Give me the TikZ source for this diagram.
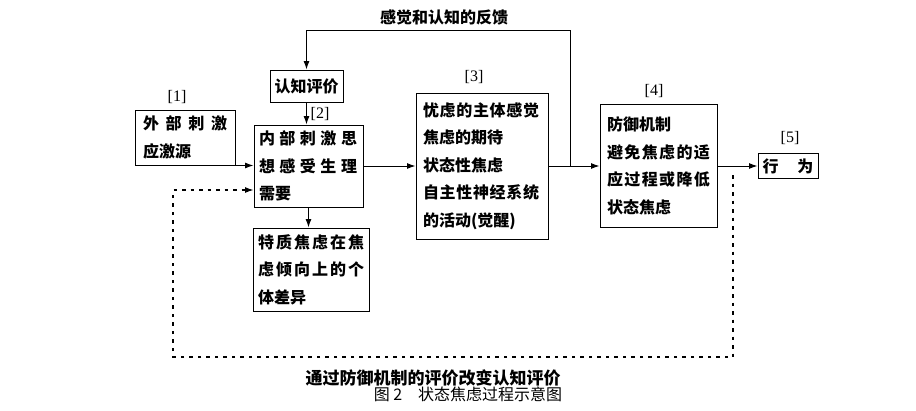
\documentclass[tikz,border=0pt]{standalone}
\usepackage{fontspec}
\setmainfont{Liberation Serif}
\newfontfamily\cjk{Noto Sans CJK SC}
\usepackage{tikz}
\usetikzlibrary{arrows.meta,positioning}
% spread the characters of one line over a given width
\makeatletter
\newcommand\spread[2]{\leavevmode\hbox to #1{\@tfor\chr:=#2\do{\chr\hfil}\unskip}}
\makeatother
\tikzset{
  box/.style={draw, rectangle, line width=1pt, align=left, inner ysep=0pt,
    font=\cjk\bfseries\fontsize{16}{27.5}\selectfont},
  tag/.style={inner sep=0pt, font=\fontsize{16}{18}\selectfont},
  flow/.style={->, line width=1pt},
  back/.style={->, line width=1.1pt, dash pattern=on 3.5pt off 5pt}
}

\begin{document}
\begin{tikzpicture}[x=1pt, y=-1pt, >={Latex[length=8.5pt,width=6pt]}]
        \useasboundingbox (0,0) rectangle (916,410);

        % Stages of the process
        \node[box, text width=84pt, inner xsep=8pt, minimum height=55pt] (src) at (185,137.5) {\spread{84pt}{外部刺激}\\应激源};
        \node[box, inner xsep=4.5pt, minimum height=32pt] (appr) at (306.5,86) {认知评价};
        \node[box, text width=99pt, inner xsep=5pt, minimum height=82pt] (inner) at (308.5,166) {\spread{98pt}{内部刺激思}\\\spread{98pt}{想感受生理}\\需要};
        \node[box, text width=106pt, inner xsep=5pt, minimum height=83pt] (trait) at (311,269.5) {\spread{106pt}{特质焦虑在焦}\\\spread{106pt}{虑倾向上的个}\\体差异};
        \node[box, text width=118pt, inner xsep=7pt, minimum height=146pt] (state) at (482,166) {\spread{116pt}{忧虑的主体感觉}\\焦虑的期待\\状态性焦虑\\\spread{116pt}{自主性神经系统}\\的活动(觉醒)};
        \node[box, text width=103pt, inner xsep=7pt, minimum height=123pt] (defense) at (658.5,166) {防御机制\\\spread{103pt}{避免焦虑的适}\\\spread{103pt}{应过程或降低}\\状态焦虑};
        \node[box, inner xsep=4.5pt, minimum height=25pt] (act) at (788,166) {\spread{51pt}{行为}};

        % Stage numbers
        \node[tag] (n1) at (177,97) {[1]};
        \node[tag] (n2) at (320,114) {[2]};
        \node[tag] (n3) at (474,77) {[3]};
        \node[tag] (n4) at (654,91) {[4]};
        \node[tag] (n5) at (790,138) {[5]};

        % Corner points of the loops
        \coordinate (split) at (570,166);
        \coordinate (top) at (570,30);
        \coordinate (dtop) at (733,175);
        \coordinate (dbr) at (733,357);
        \coordinate (dbl) at (173,357);
        \coordinate (din) at (173,190);

        % Connectors
        \draw[flow] (src.south east) -- (src.south east -| inner.west);
        \draw[flow] (appr) -- (appr |- inner.north);
        \draw[flow] (inner.south) -- (inner.south |- trait.north);
        \draw[flow] (inner) -- (state);
        \draw[flow] (state) -- (defense);
        \draw[flow] (defense) -- (act);
        \draw[flow] (split) -- (top) -| (appr);
        \draw[back] (dtop) -- (dbr) -- (dbl) -- (din) -- (din -| inner.west);

        % Texts on the loops and caption
        \node[font=\cjk\bfseries\fontsize{16}{18}\selectfont] (fbtext) at (444,17) {感觉和认知的反馈};
        \node[font=\cjk\bfseries\fontsize{17}{19}\selectfont] (evtext) at (433,378) {通过防御机制的评价改变认知评价};
        \node[font=\cjk\fontsize{16}{18}\selectfont] (caption) at (468,394) {图 2\quad 状态焦虑过程示意图};
    \end{tikzpicture}
\end{document}
